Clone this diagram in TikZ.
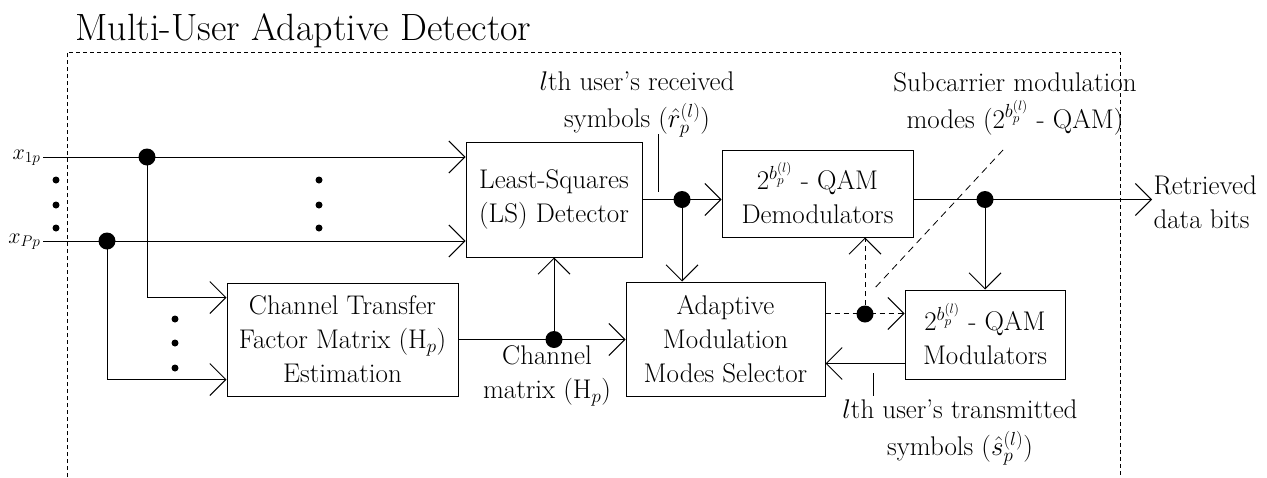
\RequirePackage{fix-cm}
\documentclass[tikz,border=0pt]{standalone}
\usepackage{fontspec}
\usetikzlibrary{arrows.meta,calc}
\newcommand\bodyfont{\fontsize{27}{34}\selectfont}
\newcommand\labelfont{\fontsize{27}{37}\selectfont}
\newcommand\inputfont{\fontsize{22}{26}\selectfont}
\newcommand\titlefont{\fontsize{38}{44}\selectfont}
\begin{document}
\begin{tikzpicture}[x=1pt,y=-1pt,
  line width=1pt,
  >={Straight Barb[length=16pt,width=32pt]},
  box/.style={draw, align=center, inner sep=0pt, font=\bodyfont},
  lbl/.style={align=center, font=\bodyfont, inner sep=0pt},
  mlbl/.style={align=center, font=\labelfont, inner sep=0pt},
  jdot/.style={circle, fill, inner sep=0pt, minimum size=17pt},
  sdot/.style={circle, fill, inner sep=0pt, minimum size=7pt},
  frame/.style={dash pattern=on 4pt off 3pt, line width=0.9pt},
  sel/.style={dash pattern=on 5pt off 4pt},
  ptr/.style={dash pattern=on 7pt off 5pt, line width=0.8pt}]
\useasboundingbox (0,0) rectangle (1267,477);

% frame and title
\coordinate (f1) at (67,477);
\coordinate (f2) at (67,52);
\coordinate (f3) at (1120,52);
\coordinate (f4) at (1120,477);
\draw[frame] (f1) -- (f2) -- (f3) -- (f4);
\node[anchor=base west, font=\titlefont, inner sep=0pt] (title) at (75,40) {Multi-User Adaptive Detector};

% blocks
\node[box, minimum width=231pt, minimum height=113pt] (chan) at (342.5,339.5) {Channel Transfer\\Factor Matrix ($\mathrm{H}_p$)\\Estimation};
\node[box, minimum width=176pt, minimum height=115pt] (ls) at (554,199.5) {Least-Squares\\(LS) Detector};
\node[box, minimum width=191pt, minimum height=87pt] (dem) at (817.5,193.5) {$2^{b_p^{(l)}}$ - QAM\\Demodulators};
\node[box, minimum width=199pt, minimum height=114pt] (ada) at (725.5,339) {Adaptive\\Modulation\\Modes Selector};
\node[box, minimum width=160pt, minimum height=89pt] (mod) at (985,334.5) {$2^{b_p^{(l)}}$ - QAM\\Modulators};

% inputs
\coordinate (x1) at (43,157);
\coordinate (xP) at (43,241);
\node[anchor=base east, font=\inputfont, inner sep=0pt] (lx1) at (41,159) {$x_{1p}$};
\node[anchor=base east, font=\inputfont, inner sep=0pt] (lxP) at (41,243) {$x_{Pp}$};
\draw[->] (x1) -- (x1 -| ls.west);
\draw[->] (xP) -- (xP -| ls.west);
\node[jdot] (j1) at (147,157) {};
\node[jdot] (j2) at (107,241) {};
\draw[->] (j1.center) |- ([yshift=-15pt]chan.north west);
\draw[->] (j2.center) |- ([yshift=17pt]chan.south west);

% ellipsis dots
\foreach \y [count=\i] in {180,205,228} {
  \node[sdot] (dl\i) at (56,\y) {};
  \node[sdot] (dm\i) at (319,\y) {};
}
\foreach \y [count=\i] in {319,343,368} {
  \node[sdot] (db\i) at (175,\y) {};
}

% LS output
\node[jdot] (j3) at (682,199.5) {};
\draw[->] (ls.east) -- (ls.east -| dem.west);
\draw[->] (j3.center) -- (j3.center |- ada.north);

% demodulator output
\coordinate (out) at (1152,199.5);
\node[jdot] (j4) at (985,199.5) {};
\draw[->] (j3 -| dem.east) -- (out);
\draw[->] (j4.center) -- (j4.center |- mod.north);

% channel matrix
\node[jdot] (j5) at (554,339.5) {};
\draw[->] (chan.east) -- (chan.east -| ada.west);
\draw[->] (j5.center) -- (ls.south);

% modulator to selector
\coordinate (mo) at ([yshift=16pt]mod.south west);
\draw[->] (mo) -- (mo -| ada.east);

% modulation modes (dashed)
\coordinate (ao) at ([yshift=-32pt]ada.north east);
\node[jdot] (j6) at (865,314) {};
\draw[sel,->] (ao) -- (ao -| mod.west);
\draw[sel,->] (j6.center) -- (j6.center |- dem.south);

% labels (base anchor = baseline of last line)
\node[mlbl, anchor=base] (rl) at (637,127) {$l$th user's received\\symbols ($\hat{r}_p^{(l)}$)};
\coordinate (rp1) at (658,134);
\coordinate (rp2) at (658,192);
\draw (rp1) -- (rp2);

\node[mlbl, anchor=base] (sub) at (1015,128) {Subcarrier modulation\\modes ($2^{b_p^{(l)}}$ - QAM)};
\coordinate (sp1) at (1003,150);
\coordinate (sp2) at (873,290);
\draw[ptr] (sp1) -- (sp2);

\node[lbl, anchor=base west, align=left] (ret) at (1153,228) {Retrieved\\data bits};
\node[lbl, anchor=base] (cm) at (547,398) {Channel\\matrix ($\mathrm{H}_p$)};
\node[mlbl, anchor=base] (tx) at (960,455) {$l$th user's transmitted\\symbols ($\hat{s}_p^{(l)}$)};
\coordinate (tp1) at (873,373);
\coordinate (tp2) at (873,396);
\draw (tp1) -- (tp2);
\end{tikzpicture}
\end{document}
